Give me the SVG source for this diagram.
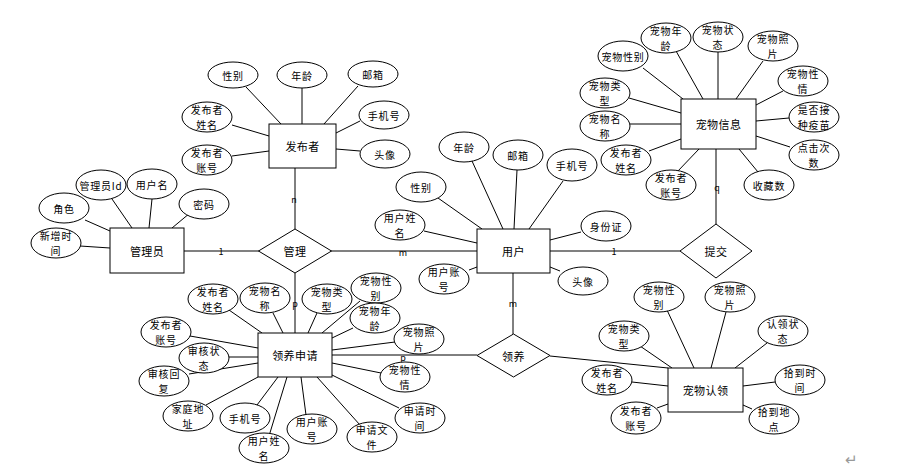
<svg xmlns="http://www.w3.org/2000/svg" width="915" height="476" viewBox="0 0 915 476">
<style>
text{font-family:"Noto Sans CJK SC","Liberation Sans",sans-serif;font-size:10px;fill:#000;text-anchor:middle;dominant-baseline:central;letter-spacing:0.8px}
.n text{font-size:11px;letter-spacing:0.4px}
.e ellipse,.n rect,.n polygon{fill:#fff;stroke:#000;stroke-width:1}
#connectors line{stroke:#000;stroke-width:1}
#connectors line.main{stroke:#808080;stroke-width:2}
.lbl{font-size:9px;letter-spacing:0}
.mark{font-size:15px;fill:#999;letter-spacing:0}
</style>
<rect width="915" height="476" fill="#fff"/>
<g id="connectors">
<line class="main" x1="184" y1="251" x2="259" y2="251"/>
<line class="main" x1="331" y1="251" x2="477" y2="251"/>
<line class="main" x1="550" y1="251" x2="680" y2="251"/>
<line x1="295" y1="168" x2="295" y2="229"/>
<line x1="295" y1="273" x2="295" y2="333"/>
<line x1="513" y1="273" x2="513" y2="334"/>
<line x1="332" y1="355" x2="477" y2="355"/>
<line x1="550" y1="356" x2="668" y2="368"/>
<line x1="716" y1="149" x2="716" y2="224"/>
<line x1="85" y1="220" x2="110" y2="231"/>
<line x1="112" y1="199" x2="132" y2="228"/>
<line x1="152" y1="199" x2="149" y2="228"/>
<line x1="190" y1="213" x2="172" y2="228"/>
<line x1="80" y1="246" x2="110" y2="248"/>
<line x1="246" y1="87" x2="281" y2="124"/>
<line x1="302" y1="88" x2="302" y2="124"/>
<line x1="358" y1="86" x2="324" y2="124"/>
<line x1="360" y1="121" x2="336" y2="133"/>
<line x1="360" y1="151" x2="336" y2="149"/>
<line x1="232" y1="125" x2="269" y2="136"/>
<line x1="232" y1="156" x2="269" y2="151"/>
<line x1="472" y1="161" x2="503" y2="229"/>
<line x1="517" y1="170" x2="514" y2="229"/>
<line x1="563" y1="181" x2="529" y2="229"/>
<line x1="438" y1="198" x2="482" y2="229"/>
<line x1="424" y1="231" x2="477" y2="243"/>
<line x1="581" y1="232" x2="550" y2="240"/>
<line x1="469" y1="270" x2="477" y2="267"/>
<line x1="560" y1="271" x2="550" y2="267"/>
<line x1="643" y1="68" x2="683" y2="99"/>
<line x1="676" y1="51" x2="703" y2="99"/>
<line x1="718" y1="52" x2="718" y2="99"/>
<line x1="763" y1="61" x2="736" y2="99"/>
<line x1="783" y1="91" x2="756" y2="105"/>
<line x1="629" y1="98" x2="681" y2="113"/>
<line x1="789" y1="118" x2="756" y2="121"/>
<line x1="790" y1="147" x2="756" y2="136"/>
<line x1="758" y1="172" x2="739" y2="149"/>
<line x1="630" y1="124" x2="681" y2="124"/>
<line x1="649" y1="151" x2="681" y2="139"/>
<line x1="677" y1="172" x2="699" y2="149"/>
<line x1="229" y1="310" x2="262" y2="333"/>
<line x1="273" y1="313" x2="283" y2="333"/>
<line x1="317" y1="313" x2="308" y2="333"/>
<line x1="360" y1="301" x2="322" y2="333"/>
<line x1="353" y1="328" x2="332" y2="338"/>
<line x1="395" y1="342" x2="332" y2="350"/>
<line x1="190" y1="336" x2="258" y2="348"/>
<line x1="229" y1="357" x2="258" y2="357"/>
<line x1="189" y1="374" x2="258" y2="363"/>
<line x1="206" y1="405" x2="258" y2="377"/>
<line x1="257" y1="405" x2="278" y2="377"/>
<line x1="269" y1="436" x2="287" y2="377"/>
<line x1="306" y1="415" x2="301" y2="377"/>
<line x1="360" y1="425" x2="317" y2="377"/>
<line x1="399" y1="408" x2="332" y2="375"/>
<line x1="381" y1="373" x2="332" y2="363"/>
<line x1="667" y1="310" x2="694" y2="368"/>
<line x1="726" y1="312" x2="711" y2="368"/>
<line x1="640" y1="346" x2="672" y2="368"/>
<line x1="767" y1="343" x2="735" y2="368"/>
<line x1="632" y1="382" x2="668" y2="386"/>
<line x1="775" y1="382" x2="743" y2="386"/>
<line x1="657" y1="408" x2="668" y2="404"/>
<line x1="752" y1="409" x2="743" y2="405"/>
<text class="lbl" x="221" y="251">1</text>
<text class="lbl" x="403" y="252">m</text>
<text class="lbl" x="614" y="251">1</text>
<text class="lbl" x="294" y="199">n</text>
<text class="lbl" x="295" y="303">p</text>
<text class="lbl" x="513" y="303">m</text>
<text class="lbl" x="403" y="357">p</text>
<text class="lbl" x="717" y="187">q</text>
</g>
<g id="rel-guanli" class="n"><polygon points="258.5,251 295,229 331.5,251 295,273"/><text x="295" y="251">管理</text></g>
<g id="rel-tijiao" class="n"><polygon points="680,251 716,224 752,251 716,278"/><text x="716" y="251">提交</text></g>
<g id="rel-lingyang" class="n"><polygon points="477,355.5 513.5,334 550,355.5 513.5,377"/><text x="513.5" y="355.5">领养</text></g>
<g id="ent-admin" class="n"><rect x="110" y="228" width="74" height="45"/><text x="147" y="250.5">管理员</text></g>
<g id="ent-publisher" class="n"><rect x="269" y="124" width="67" height="44"/><text x="302.5" y="146">发布者</text></g>
<g id="ent-user" class="n"><rect x="477" y="229" width="73" height="44"/><text x="513.5" y="251">用户</text></g>
<g id="ent-petinfo" class="n"><rect x="681" y="99" width="75" height="50"/><text x="718.5" y="124">宠物信息</text></g>
<g id="ent-apply" class="n"><rect x="258" y="333" width="74" height="44"/><text x="295" y="355">领养申请</text></g>
<g id="ent-claim" class="n"><rect x="668" y="368" width="75" height="44"/><text x="705.5" y="390">宠物认领</text></g>
<g id="a-admin-role" class="e"><ellipse cx="64" cy="208" rx="25" ry="15"/><text x="64" y="208">角色</text></g>
<g id="a-admin-id" class="e"><ellipse cx="101" cy="185" rx="25" ry="15"/><text x="101" y="185" letter-spacing="0.3">管理员Id</text></g>
<g id="a-admin-name" class="e"><ellipse cx="152" cy="184" rx="25" ry="15"/><text x="152" y="184">用户名</text></g>
<g id="a-admin-pwd" class="e"><ellipse cx="204" cy="204" rx="25" ry="15"/><text x="204" y="204">密码</text></g>
<g id="a-admin-time" class="e"><ellipse cx="56" cy="243" rx="25" ry="15"/><text x="56" y="235.7">新增时<tspan x="56" dy="14.6">间</tspan></text></g>
<g id="a-pub-sex" class="e"><ellipse cx="233" cy="75" rx="25" ry="13"/><text x="233" y="75">性别</text></g>
<g id="a-pub-age" class="e"><ellipse cx="302" cy="75" rx="25" ry="13"/><text x="302" y="75">年龄</text></g>
<g id="a-pub-mail" class="e"><ellipse cx="373" cy="74" rx="25" ry="13"/><text x="373" y="74">邮箱</text></g>
<g id="a-pub-phone" class="e"><ellipse cx="384" cy="115" rx="25" ry="14"/><text x="384" y="115">手机号</text></g>
<g id="a-pub-avatar" class="e"><ellipse cx="385" cy="154" rx="25" ry="14"/><text x="385" y="154">头像</text></g>
<g id="a-pub-name" class="e"><ellipse cx="207" cy="117" rx="25" ry="15"/><text x="207" y="109.7">发布者<tspan x="207" dy="14.6">姓名</tspan></text></g>
<g id="a-pub-acct" class="e"><ellipse cx="207" cy="160" rx="25" ry="15"/><text x="207" y="152.7">发布者<tspan x="207" dy="14.6">账号</tspan></text></g>
<g id="a-user-age" class="e"><ellipse cx="464" cy="147" rx="25" ry="15"/><text x="464" y="147">年龄</text></g>
<g id="a-user-mail" class="e"><ellipse cx="518" cy="155" rx="25" ry="15"/><text x="518" y="155">邮箱</text></g>
<g id="a-user-phone" class="e"><ellipse cx="572" cy="165" rx="25" ry="16"/><text x="572" y="165">手机号</text></g>
<g id="a-user-sex" class="e"><ellipse cx="421" cy="187" rx="25" ry="15"/><text x="421" y="187">性别</text></g>
<g id="a-user-name" class="e"><ellipse cx="400" cy="225" rx="25" ry="15"/><text x="400" y="217.7">用户姓<tspan x="400" dy="14.6">名</tspan></text></g>
<g id="a-user-id" class="e"><ellipse cx="606" cy="226" rx="25" ry="15"/><text x="606" y="226">身份证</text></g>
<g id="a-user-acct" class="e"><ellipse cx="444" cy="279" rx="25" ry="15"/><text x="444" y="271.7">用户账<tspan x="444" dy="14.6">号</tspan></text></g>
<g id="a-user-avatar" class="e"><ellipse cx="583" cy="281" rx="25" ry="14"/><text x="583" y="281">头像</text></g>
<g id="a-pet-sex" class="e"><ellipse cx="623" cy="56" rx="25" ry="15"/><text x="623" y="56" letter-spacing="0.3">宠物性别</text></g>
<g id="a-pet-age" class="e"><ellipse cx="666" cy="38" rx="25" ry="15"/><text x="666" y="30.7">宠物年<tspan x="666" dy="14.6">龄</tspan></text></g>
<g id="a-pet-state" class="e"><ellipse cx="718" cy="37" rx="25" ry="15"/><text x="718" y="29.7">宠物状<tspan x="718" dy="14.6">态</tspan></text></g>
<g id="a-pet-photo" class="e"><ellipse cx="773" cy="46" rx="25" ry="15"/><text x="773" y="38.7">宠物照<tspan x="773" dy="14.6">片</tspan></text></g>
<g id="a-pet-temper" class="e"><ellipse cx="803" cy="81" rx="25" ry="15"/><text x="803" y="73.7">宠物性<tspan x="803" dy="14.6">情</tspan></text></g>
<g id="a-pet-type" class="e"><ellipse cx="605" cy="93" rx="25" ry="15"/><text x="605" y="85.7">宠物类<tspan x="605" dy="14.6">型</tspan></text></g>
<g id="a-pet-vacc" class="e"><ellipse cx="814" cy="117" rx="25" ry="15"/><text x="814" y="109.7">是否接<tspan x="814" dy="14.6">种疫苗</tspan></text></g>
<g id="a-pet-clicks" class="e"><ellipse cx="814" cy="155" rx="25" ry="15"/><text x="814" y="147.7">点击次<tspan x="814" dy="14.6">数</tspan></text></g>
<g id="a-pet-fav" class="e"><ellipse cx="769" cy="185" rx="25" ry="15"/><text x="769" y="185">收藏数</text></g>
<g id="a-pet-name" class="e"><ellipse cx="605" cy="126" rx="25" ry="15"/><text x="605" y="118.7">宠物名<tspan x="605" dy="14.6">称</tspan></text></g>
<g id="a-pet-pubname" class="e"><ellipse cx="626" cy="160" rx="25" ry="15"/><text x="626" y="152.7">发布者<tspan x="626" dy="14.6">姓名</tspan></text></g>
<g id="a-pet-pubacct" class="e"><ellipse cx="671" cy="185" rx="25" ry="15"/><text x="671" y="177.7">发布者<tspan x="671" dy="14.6">账号</tspan></text></g>
<g id="a-app-pubname" class="e"><ellipse cx="213" cy="299" rx="25" ry="15"/><text x="213" y="291.7">发布者<tspan x="213" dy="14.6">姓名</tspan></text></g>
<g id="a-app-petname" class="e"><ellipse cx="265" cy="298" rx="25" ry="15"/><text x="265" y="290.7">宠物名<tspan x="265" dy="14.6">称</tspan></text></g>
<g id="a-app-pettype" class="e"><ellipse cx="327" cy="299" rx="25" ry="15"/><text x="327" y="291.7">宠物类<tspan x="327" dy="14.6">型</tspan></text></g>
<g id="a-app-petsex" class="e"><ellipse cx="376" cy="288" rx="25" ry="15"/><text x="376" y="280.7">宠物性<tspan x="376" dy="14.6">别</tspan></text></g>
<g id="a-app-petage" class="e"><ellipse cx="375" cy="318" rx="25" ry="15"/><text x="375" y="310.7">宠物年<tspan x="375" dy="14.6">龄</tspan></text></g>
<g id="a-app-petphoto" class="e"><ellipse cx="419" cy="339" rx="25" ry="15"/><text x="419" y="331.7">宠物照<tspan x="419" dy="14.6">片</tspan></text></g>
<g id="a-app-pubacct" class="e"><ellipse cx="166" cy="332" rx="25" ry="15"/><text x="166" y="324.7">发布者<tspan x="166" dy="14.6">账号</tspan></text></g>
<g id="a-app-state" class="e"><ellipse cx="204" cy="358" rx="25" ry="15"/><text x="204" y="350.7">审核状<tspan x="204" dy="14.6">态</tspan></text></g>
<g id="a-app-reply" class="e"><ellipse cx="164" cy="381" rx="25" ry="15"/><text x="164" y="373.7">审核回<tspan x="164" dy="14.6">复</tspan></text></g>
<g id="a-app-addr" class="e"><ellipse cx="188" cy="416" rx="25" ry="15"/><text x="188" y="408.7">家庭地<tspan x="188" dy="14.6">址</tspan></text></g>
<g id="a-app-phone" class="e"><ellipse cx="245" cy="418" rx="25" ry="15"/><text x="245" y="418">手机号</text></g>
<g id="a-app-username" class="e"><ellipse cx="264" cy="448" rx="25" ry="15"/><text x="264" y="440.7">用户姓<tspan x="264" dy="14.6">名</tspan></text></g>
<g id="a-app-useracct" class="e"><ellipse cx="312" cy="429" rx="25" ry="15"/><text x="312" y="421.7">用户账<tspan x="312" dy="14.6">号</tspan></text></g>
<g id="a-app-file" class="e"><ellipse cx="372" cy="437" rx="25" ry="15"/><text x="372" y="429.7">申请文<tspan x="372" dy="14.6">件</tspan></text></g>
<g id="a-app-time" class="e"><ellipse cx="420" cy="418" rx="25" ry="15"/><text x="420" y="410.7">申请时<tspan x="420" dy="14.6">间</tspan></text></g>
<g id="a-app-temper" class="e"><ellipse cx="405" cy="377" rx="25" ry="15"/><text x="405" y="369.7">宠物性<tspan x="405" dy="14.6">情</tspan></text></g>
<g id="a-clm-petsex" class="e"><ellipse cx="659" cy="297" rx="25" ry="15"/><text x="659" y="289.7">宠物性<tspan x="659" dy="14.6">别</tspan></text></g>
<g id="a-clm-photo" class="e"><ellipse cx="730" cy="297" rx="25" ry="15"/><text x="730" y="289.7">宠物照<tspan x="730" dy="14.6">片</tspan></text></g>
<g id="a-clm-type" class="e"><ellipse cx="624" cy="336" rx="25" ry="15"/><text x="624" y="328.7">宠物类<tspan x="624" dy="14.6">型</tspan></text></g>
<g id="a-clm-state" class="e"><ellipse cx="783" cy="331" rx="25" ry="15"/><text x="783" y="323.7">认领状<tspan x="783" dy="14.6">态</tspan></text></g>
<g id="a-clm-pubname" class="e"><ellipse cx="607" cy="380" rx="25" ry="15"/><text x="607" y="372.7">发布者<tspan x="607" dy="14.6">姓名</tspan></text></g>
<g id="a-clm-time" class="e"><ellipse cx="800" cy="380" rx="25" ry="15"/><text x="800" y="372.7">拾到时<tspan x="800" dy="14.6">间</tspan></text></g>
<g id="a-clm-pubacct" class="e"><ellipse cx="636" cy="418" rx="25" ry="16"/><text x="636" y="410.7">发布者<tspan x="636" dy="14.6">账号</tspan></text></g>
<g id="a-clm-place" class="e"><ellipse cx="774" cy="419" rx="25" ry="15"/><text x="774" y="411.7">拾到地<tspan x="774" dy="14.6">点</tspan></text></g>
<text class="mark" x="851" y="458">↵</text>
</svg>
